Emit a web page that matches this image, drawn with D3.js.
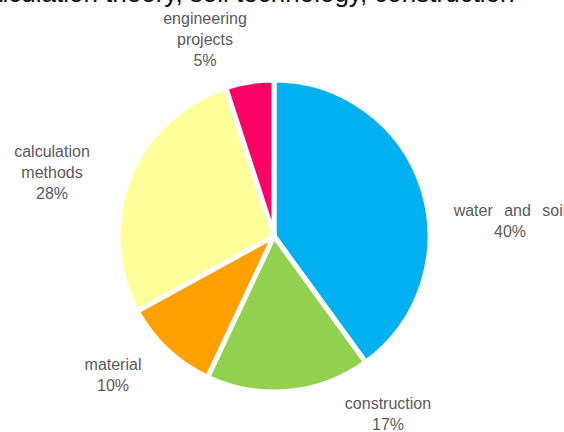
<!DOCTYPE html>
<html><head><meta charset="utf-8">
<script src="https://cdn.jsdelivr.net/npm/d3@7"></script>
<style>body{margin:0;background:#fff;overflow:hidden}svg{display:block}</style>
</head><body>
<svg id="c" width="564" height="432"></svg>
<script>
const categories = ["water and soil", "construction", "material", "calculation methods", "engineering projects"];
const values = [40, 17, 10, 28, 5];
const colors = ["#00B0F0", "#92D050", "#FF9F00", "#FFFF99", "#FF0066"];
const labelLines = [["water and soil", "40%"], ["construction", "17%"], ["material", "10%"], ["calculation", "methods", "28%"], ["engineering", "projects", "5%"]];
const heading = "calculation theory, soil technology, construction";

const svg = d3.select("#c");
const cx = 274, cy = 236, r = 156;

// clipped heading text from the surrounding document (only its lower edge is visible)
svg.append("text").attr("x", -25).attr("y", 2)
  .attr("font-family", "Liberation Sans, Arial, sans-serif").attr("font-size", 26).attr("fill", "#111")
  .text(heading);

const pie = d3.pie().sort(null).value(d => d)(values);
const arc = d3.arc().innerRadius(0).outerRadius(r);
const g = svg.append("g").attr("transform", `translate(${cx},${cy})`);
g.selectAll("path").data(pie).join("path")
  .attr("d", arc).attr("fill", (d, i) => colors[i])
  .attr("stroke", "#fff").attr("stroke-width", 5).attr("stroke-linejoin", "round");

// label positions (outside the pie)
const labelPos = [[236, -20], [114, 173], [-161, 134], [-222, -79], [-69, -212]];
const lh = 21;
labelLines.forEach((lines, i) => {
  const [lx, ly] = labelPos[i];
  const t = g.append("text").attr("text-anchor", "middle")
    .attr("font-family", "Liberation Sans, Arial, sans-serif").attr("font-size", 16).attr("fill", "#595959");
  lines.forEach((s, j) => {
    t.append("tspan").attr("x", lx).attr("y", ly + j * lh)
      .attr("word-spacing", i === 0 ? 7 : 0).text(s);
  });
});
</script>
</body></html>
